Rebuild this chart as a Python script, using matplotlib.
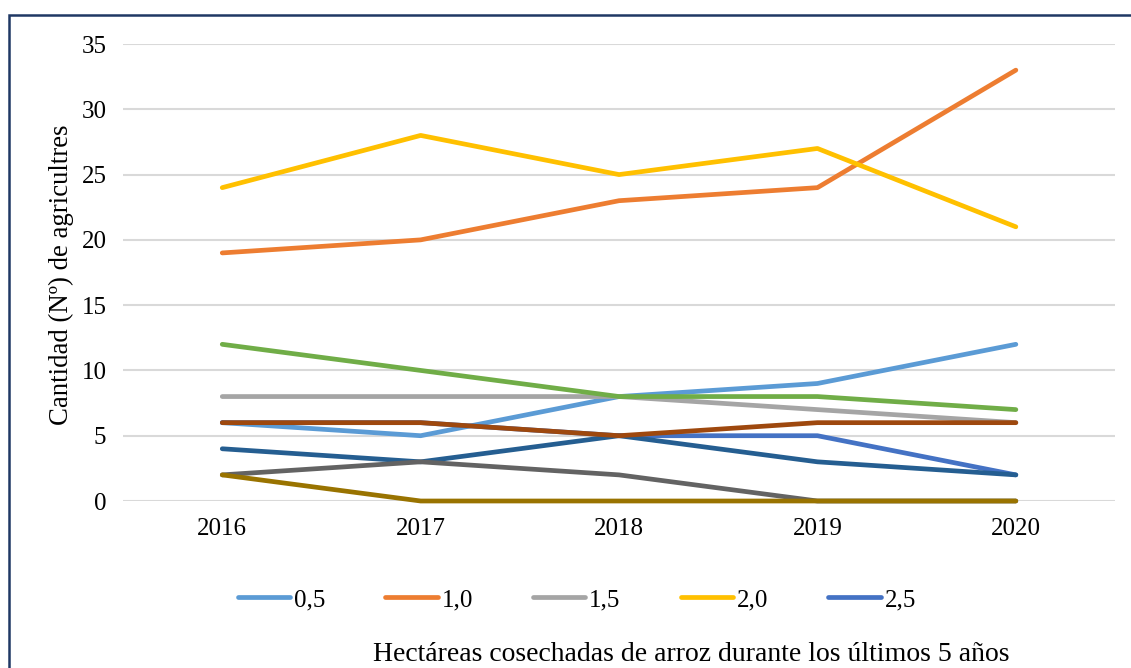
import matplotlib
matplotlib.use("Agg")
import matplotlib.pyplot as plt
from matplotlib.lines import Line2D
from matplotlib.patches import Rectangle

plt.rcParams['font.family'] = ['Liberation Serif', 'DejaVu Serif']

anios = ['2016', '2017', '2018', '2019', '2020']

# agricultores por hectáreas cosechadas
ha_05 = [6, 5, 8, 9, 12]
ha_10 = [19, 20, 23, 24, 33]
ha_15 = [8, 8, 8, 7, 6]
ha_20 = [24, 28, 25, 27, 21]
ha_25 = [6, 6, 5, 5, 2]
ha_30 = [12, 10, 8, 8, 7]
ha_35 = [4, 3, 5, 3, 2]
ha_40 = [6, 6, 5, 6, 6]
ha_45 = [2, 3, 2, 0, 0]
ha_50 = [2, 0, 0, 0, 0]

series = [
    ('0,5', ha_05, '#5B9BD5'),
    ('1,0', ha_10, '#ED7D31'),
    ('1,5', ha_15, '#A5A5A5'),
    ('2,0', ha_20, '#FFC000'),
    ('2,5', ha_25, '#4472C4'),
    ('3,0', ha_30, '#70AD47'),
    ('3,5', ha_35, '#255E91'),
    ('4,0', ha_40, '#9E480E'),
    ('4,5', ha_45, '#636363'),
    ('5,0', ha_50, '#997300'),
]

fig = plt.figure(figsize=(11.31, 6.68), dpi=100)
ax = fig.add_axes([0.1088, 0.25, 0.8771, 0.6841])

x = list(range(len(anios)))
for nombre, vals, col in series:
    ax.plot(x, vals, color=col, lw=3.4, solid_capstyle='round',
            solid_joinstyle='round', label=nombre, clip_on=False)

ax.set_xlim(-0.5, 4.5)
ax.set_ylim(0, 35)
ax.set_yticks(range(0, 36, 5))
ax.set_xticks(x)
ax.set_xticklabels(anios)
ax.tick_params(length=0, labelsize=18)
ax.tick_params(axis='y', pad=12)
ax.tick_params(axis='x', pad=12)
ax.grid(axis='y', color='#D9D9D9', lw=1.5)
ax.set_axisbelow(True)
for s in ax.spines.values():
    s.set_visible(False)

fig.text(0.054, 0.588, 'Cantidad (Nº) de agricultres', rotation=90,
         ha='center', va='center', fontsize=19.3)
fig.text(0.611, 0.02, 'Hectáreas cosechadas de arroz durante los últimos 5 años',
         ha='center', va='center', fontsize=20)

handles = [Line2D([], [], color=c, lw=3.4, solid_capstyle='round') for _, _, c in series[:5]]
labels = [n for n, _, _ in series[:5]]
fig.legend(handles, labels, loc='center', bbox_to_anchor=(0.51, 0.102), ncol=5,
           frameon=False, fontsize=18, handlelength=2.1, handletextpad=0.15,
           columnspacing=2.4)

# marco del gráfico
fig.add_artist(Rectangle((9 / 1131, -0.05), 1.2, (668 - 15) / 668 + 0.05,
                         transform=fig.transFigure, fill=False,
                         edgecolor='#1F3864', lw=1.8))

fig.savefig('out.png', dpi=100, facecolor='white')
